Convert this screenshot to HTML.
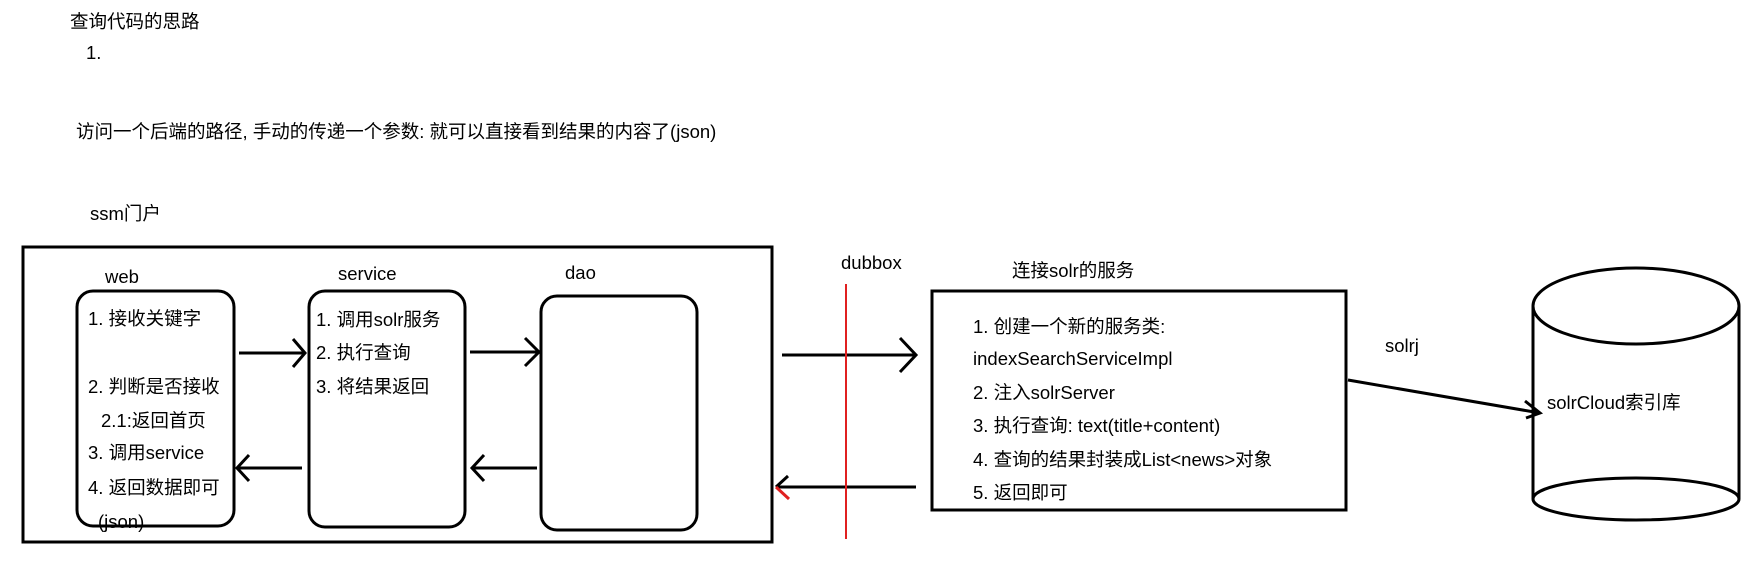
<!DOCTYPE html>
<html><head><meta charset="utf-8"><style>
html,body{margin:0;padding:0;background:#fff;width:1759px;height:563px;overflow:hidden}
svg{display:block}
text{font-family:"Liberation Sans","Noto Sans CJK SC",sans-serif;font-size:18.5px;fill:#000}
</style></head><body>
<svg width="1759" height="563" viewBox="0 0 1759 563">
<g fill="none" stroke="#000" stroke-width="3">
<rect x="23" y="247" width="749" height="295"/>
<rect x="77" y="291" width="157" height="235" rx="16"/>
<rect x="309" y="291" width="156" height="236" rx="16"/>
<rect x="541" y="296" width="156" height="234" rx="16"/>
<rect x="932" y="291" width="414" height="219"/>
<path d="M239 353H305M293 339L305 353L293 367"/>
<path d="M470 352H539M525 338L539 352L525 366"/>
<path d="M302 468H237M249 455L237 468L249 481"/>
<path d="M537 468H472M484 455L472 468L484 481"/>
<path d="M782 355H916M900 338L916 355L900 372"/>
<path d="M916 487H776M788 476L776 487"/>
<path d="M1348 380L1540 413M1525 401L1540 413L1526 418"/>
<ellipse cx="1636" cy="306" rx="103" ry="38"/>
<path d="M1533 306V499M1739 306V499"/>
<ellipse cx="1636" cy="499" rx="103" ry="21"/>
</g>
<path d="M776 487L789 499" stroke="#e02020" stroke-width="3"/>
<line x1="846" y1="284" x2="846" y2="539" stroke="#e02020" stroke-width="2"/>
<text x="70" y="28">查询代码的思路</text>
<text x="86" y="59">1.</text>
<text x="76" y="138">访问一个后端的路径, 手动的传递一个参数: 就可以直接看到结果的内容了(json)</text>
<text x="90" y="220">ssm门户</text>
<text x="105" y="283">web</text>
<text x="338" y="280">service</text>
<text x="565" y="279">dao</text>
<text x="88" y="325">1. 接收关键字</text>
<text x="88" y="393">2. 判断是否接收</text>
<text x="101" y="427">2.1:返回首页</text>
<text x="88" y="459">3. 调用service</text>
<text x="88" y="494">4. 返回数据即可</text>
<text x="98" y="528">(json)</text>
<text x="316" y="326">1. 调用solr服务</text>
<text x="316" y="359">2. 执行查询</text>
<text x="316" y="393">3. 将结果返回</text>
<text x="841" y="269">dubbox</text>
<text x="1012" y="277">连接solr的服务</text>
<text x="973" y="333">1. 创建一个新的服务类:</text>
<text x="973" y="365">indexSearchServiceImpl</text>
<text x="973" y="399">2. 注入solrServer</text>
<text x="973" y="432">3. 执行查询:  text(title+content)</text>
<text x="973" y="466">4. 查询的结果封装成List&lt;news&gt;对象</text>
<text x="973" y="499">5. 返回即可</text>
<text x="1385" y="352">solrj</text>
<text x="1547" y="409">solrCloud索引库</text>
</svg>
</body></html>
